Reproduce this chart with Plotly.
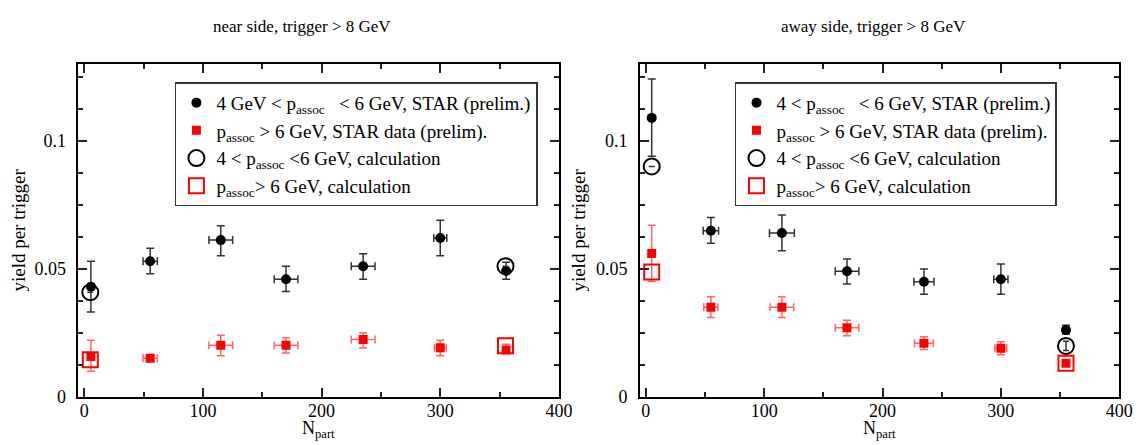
import plotly.graph_objects as go

# ---------------- data ----------------
# near side, trigger > 8 GeV
near_npart = [5.5, 55.5, 115, 170, 235, 300, 355.5]
near_lo_y = [0.0430, 0.0529, 0.0612, 0.0459, 0.0510, 0.0620, 0.0491]
near_lo_ep = [0.0099, 0.0051, 0.0056, 0.0051, 0.0049, 0.0070, 0.0034]
near_lo_em = [0.0099, 0.0049, 0.0061, 0.0048, 0.0051, 0.0069, 0.0032]
near_lo_ex = [0, 6, 10, 10, 10, 5.5, 0]
near_hi_y = [0.0157, 0.0150, 0.0201, 0.0201, 0.0223, 0.0191, 0.0182]
near_hi_ep = [0.0063, 0.0010, 0.0039, 0.0029, 0.0027, 0.0029, 0.0023]
near_hi_em = [0.0058, 0.0010, 0.0041, 0.0031, 0.0033, 0.0031, 0.0012]
near_hi_ex = [0, 6, 10, 10, 10, 5, 0]
near_calc_npart = [5, 355]
near_calc_lo = [0.0408, 0.0510]
near_calc_hi = [0.0144, 0.0199]

# away side, trigger > 8 GeV
away_npart = [5, 55, 115, 170, 235, 300, 355]
away_lo_y = [0.1090, 0.0649, 0.0640, 0.0490, 0.0449, 0.0459, 0.0260]
away_lo_ep = [0.0152, 0.0051, 0.0070, 0.0048, 0.0050, 0.0060, 0.0019]
away_lo_em = [0.0150, 0.0049, 0.0070, 0.0050, 0.0049, 0.0059, 0.0015]
away_lo_ex = [0, 6.5, 10.5, 10, 8.5, 6, 0]
away_hi_y = [0.0560, 0.0349, 0.0349, 0.0269, 0.0209, 0.0189, 0.0130]
away_hi_ep = [0.0110, 0.0041, 0.0041, 0.0030, 0.0025, 0.0025, 0.0010]
away_hi_em = [0.0110, 0.0040, 0.0040, 0.0031, 0.0025, 0.0025, 0.0010]
away_hi_ex = [0, 6, 10, 10, 8, 5, 0]
away_calc_npart = [5, 355]
away_calc_lo = [0.0900, 0.0198]
away_calc_lo_err = [0, 0.0018]
away_calc_hi = [0.0487, 0.0130]

titles = ["near side, trigger &gt; 8 GeV", "away side, trigger &gt; 8 GeV"]
x_title = "N<sub>part</sub>"
y_title = "yield per trigger"
lab_lo_near = "4 GeV &lt; p<sub>assoc</sub>   &lt; 6 GeV, STAR (prelim.)"
lab_lo_away = "4 &lt; p<sub>assoc</sub>   &lt; 6 GeV, STAR (prelim.)"
lab_hi = "p<sub>assoc</sub> &gt; 6 GeV, STAR data (prelim)."
lab_calc_lo = "4 &lt; p<sub>assoc</sub> &lt;6 GeV, calculation"
lab_calc_hi = "p<sub>assoc</sub>&gt; 6 GeV, calculation"

FONT = "Liberation Serif"
BLACK_ERR = "rgb(50,50,50)"
RED_ERR = "rgba(255,0,0,0.6)"

fig = go.Figure()


def add_panel(xa, ya, leg, npart, lo_y, lo_ep, lo_em, lo_ex, hi_y, hi_ep, hi_em, hi_ex,
              cx, clo, clo_err, chi, lab_lo):
    fig.add_trace(go.Scatter(
        x=npart, y=lo_y, mode="markers", name=lab_lo, xaxis=xa, yaxis=ya, legend=leg,
        marker=dict(symbol="circle", size=10, color="black"),
        error_y=dict(type="data", symmetric=False, array=lo_ep, arrayminus=lo_em,
                     color=BLACK_ERR, thickness=1.5, width=4),
        error_x=dict(type="data", array=lo_ex, color=BLACK_ERR, thickness=1.5, width=4)))
    fig.add_trace(go.Scatter(
        x=npart, y=hi_y, mode="markers", name=lab_hi, xaxis=xa, yaxis=ya, legend=leg,
        marker=dict(symbol="square", size=9, color="red"),
        error_y=dict(type="data", symmetric=False, array=hi_ep, arrayminus=hi_em,
                     color=RED_ERR, thickness=1.5, width=4),
        error_x=dict(type="data", array=hi_ex, color=RED_ERR, thickness=1.5, width=4)))
    fig.add_trace(go.Scatter(
        x=cx, y=clo, mode="markers", name=lab_calc_lo, xaxis=xa, yaxis=ya, legend=leg,
        marker=dict(symbol="circle-open", size=16, color="black", line=dict(width=2)),
        error_y=dict(type="data", array=clo_err, color=BLACK_ERR, thickness=1.5, width=3)))
    fig.add_trace(go.Scatter(
        x=cx, y=chi, mode="markers", name=lab_calc_hi, xaxis=xa, yaxis=ya, legend=leg,
        marker=dict(symbol="square-open", size=15, color="red", line=dict(width=2))))


add_panel("x", "y", "legend", near_npart, near_lo_y, near_lo_ep, near_lo_em, near_lo_ex,
          near_hi_y, near_hi_ep, near_hi_em, near_hi_ex,
          near_calc_npart, near_calc_lo, [0, 0], near_calc_hi, lab_lo_near)
add_panel("x2", "y2", "legend2", away_npart, away_lo_y, away_lo_ep, away_lo_em, away_lo_ex,
          away_hi_y, away_hi_ep, away_hi_em, away_hi_ex,
          away_calc_npart, away_calc_lo, away_calc_lo_err, away_calc_hi, lab_lo_away)

W, H = 1144, 445
PANELS = [(71.3, 557.7), (639.7, 1125.0)]


def xax(d0, d1, anchor):
    return dict(domain=[d0 / W, d1 / W], anchor=anchor, range=[-5, 400],
                tick0=0, dtick=100, ticks="inside", ticklen=9, tickwidth=1.5, tickcolor="#222",
                minor=dict(dtick=50, ticks="inside", ticklen=5, tickwidth=1.5, tickcolor="#222"),
                showline=True, linecolor="black", linewidth=1.5, mirror="ticks",
                showgrid=False, zeroline=False, ticklabelstandoff=-3,
                tickfont=dict(family=FONT, size=18, color="black"))


def yax(anchor):
    return dict(domain=[(H - 397.5) / H, (H - 57.5) / H], anchor=anchor, range=[0, 0.13],
                tick0=0, dtick=0.05, ticks="inside", ticklen=9, tickwidth=1.5, tickcolor="#222",
                minor=dict(dtick=0.0125, ticks="inside", ticklen=5, tickwidth=1.5, tickcolor="#222"),
                showline=True, linecolor="black", linewidth=1.5, mirror="ticks",
                showgrid=False, zeroline=False, ticklabelstandoff=7,
                tickfont=dict(family=FONT, size=18, color="black"),
                title=dict(text=y_title, font=dict(family=FONT, size=19, color="black"),
                           standoff=5))


leg_common = dict(xanchor="left", yanchor="top", bgcolor="white", bordercolor="#333",
                  borderwidth=1.5, font=dict(family=FONT, size=19, color="black"),
                  itemsizing="trace", tracegroupgap=0)

annotations = []
for i, (d0, d1) in enumerate(PANELS):
    title_cx = [298.0, 876.0][i]
    annotations.append(dict(text=titles[i], x=title_cx / W, y=(H - 19) / H,
                            xref="paper", yref="paper", showarrow=False,
                            xanchor="center", yanchor="middle",
                            font=dict(family=FONT, size=17, color="black")))
    annotations.append(dict(text=x_title, x=(d0 + d1) / 2 / W, y=0,
                            xref="paper", yref="paper", showarrow=False,
                            xanchor="center", yanchor="bottom",
                            font=dict(family=FONT, size=18, color="black")))

fig.update_layout(
    width=W, height=H,
    margin=dict(l=0, r=0, t=0, b=0),
    paper_bgcolor="white", plot_bgcolor="white",
    font=dict(family=FONT, color="black"),
    xaxis=xax(PANELS[0][0], PANELS[0][1], "y"),
    yaxis=yax("x"),
    xaxis2=xax(PANELS[1][0], PANELS[1][1], "y2"),
    yaxis2=yax("x2"),
    legend=dict(x=169 / W, y=(H - 76) / H, **leg_common),
    legend2=dict(x=736 / W, y=(H - 76) / H, **leg_common),
    annotations=annotations,
)

fig.write_html("out.html")
